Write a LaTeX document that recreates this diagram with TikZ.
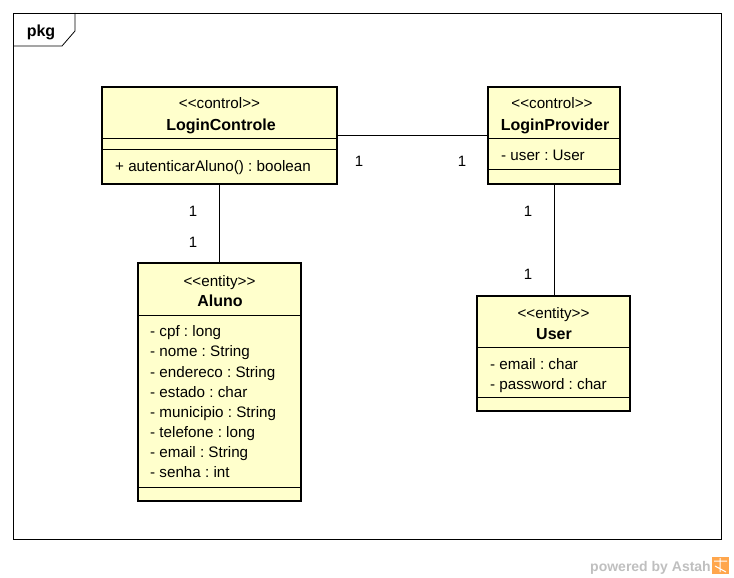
\documentclass[tikz,border=0pt]{standalone}
\usepackage{fontspec}
\setmainfont{Liberation Sans}
\frenchspacing
\begin{document}
\begin{tikzpicture}[x=1pt,y=-1pt,
  classbox/.style={draw=black, line width=2.6pt, fill=umlfill, inner sep=0pt},
  sep/.style={line width=0.9pt},
  conn/.style={line width=0.9pt},
  txt/.style={inner sep=0pt, font=\fontsize{15.2}{17}\selectfont\frenchspacing, text height=13pt, text depth=1.5pt},
  bold/.style={inner sep=0pt, font=\fontsize{16}{18}\selectfont\bfseries, text height=13pt, text depth=1pt},
  mult/.style={inner sep=0pt, font=\fontsize{15}{17}\selectfont, text height=14pt, text depth=0.5pt}]
\definecolor{umlfill}{HTML}{FFFFCC}
\useasboundingbox (0,0) rectangle (734,578);
% frame
\draw[line width=0.8pt] (13,13) rectangle (721,539);
\draw[line width=0.8pt] (13,46) -- (62,46) -- (75,31) -- (75,13);
\node[bold] (pkgl) at (41,31) {pkg};

% LoginControle
\node[classbox, minimum width=235, minimum height=97] (lc) at (219.5,135.5) {};
\draw[sep] (102,138) -- (337,138);
\draw[sep] (102,149) -- (337,149);
\node[txt] (lcs) at (219.5,103) {{<}{<}control{>}{>}};
\node[bold] (lcn) at (221,124) {LoginControle};
\node[txt, anchor=west] (lco) at (115,166) {+ autenticarAluno() : boolean};

% LoginProvider
\node[classbox, minimum width=132, minimum height=97] (lp) at (554,135.5) {};
\draw[sep] (488,138) -- (620,138);
\draw[sep] (488,169) -- (620,169);
\node[txt] (lps) at (552,103) {{<}{<}control{>}{>}};
\node[bold] (lpn) at (555,124) {LoginProvider};
\node[txt, anchor=west] (lpa) at (501,155) {- user : User};

% Aluno
\node[classbox, minimum width=163, minimum height=238] (al) at (219.5,382) {};
\draw[sep] (138,315) -- (301,315);
\draw[sep] (138,487) -- (301,487);
\node[txt] (als) at (219.5,281) {{<}{<}entity{>}{>}};
\node[bold] (aln) at (220,300) {Aluno};
\node[txt, anchor=west] (a1) at (150,331) {- cpf : long};
\node[txt, anchor=west] (a2) at (150,351) {- nome : String};
\node[txt, anchor=west] (a3) at (150,372) {- endereco : String};
\node[txt, anchor=west] (a4) at (150,392) {- estado : char};
\node[txt, anchor=west] (a5) at (150,412) {- municipio : String};
\node[txt, anchor=west] (a6) at (150,432) {- telefone : long};
\node[txt, anchor=west] (a7) at (150,452) {- email : String};
\node[txt, anchor=west] (a8) at (150,472) {- senha : int};

% User
\node[classbox, minimum width=153, minimum height=115] (us) at (553.5,353.5) {};
\draw[sep] (477,347) -- (630,347);
\draw[sep] (477,397) -- (630,397);
\node[txt] (uss) at (553.5,313) {{<}{<}entity{>}{>}};
\node[bold] (usn) at (554,333) {User};
\node[txt, anchor=west] (u1) at (490,364) {- email : char};
\node[txt, anchor=west] (u2) at (490,384) {- password : char};

% connectors
\draw[conn] (lc.east |- 0,135) -- (lp.west |- 0,135);
\draw[conn] (lc.south) -- (al.north);
\draw[conn] (lp.south) -- (lp.south |- us.north);
\node[mult] (m1) at (359,160) {1};
\node[mult] (m2) at (462,160) {1};
\node[mult] (m3) at (193,210) {1};
\node[mult] (m4) at (193,241) {1};
\node[mult] (m5) at (528,210) {1};
\node[mult] (m6) at (528,273) {1};

% watermark
\node[inner sep=0pt, anchor=east, text=black!25, font=\fontsize{14}{16}\selectfont\bfseries, text height=13pt, text depth=1pt] (pw) at (711,565) {powered by Astah};
\fill[orange!70!white] (712,557) rectangle (729,574);
\draw[white, line width=1pt] (714,561) -- (727,561) (720,558) -- (720,572) (715,566) -- (726,572);
\end{tikzpicture}
\end{document}
